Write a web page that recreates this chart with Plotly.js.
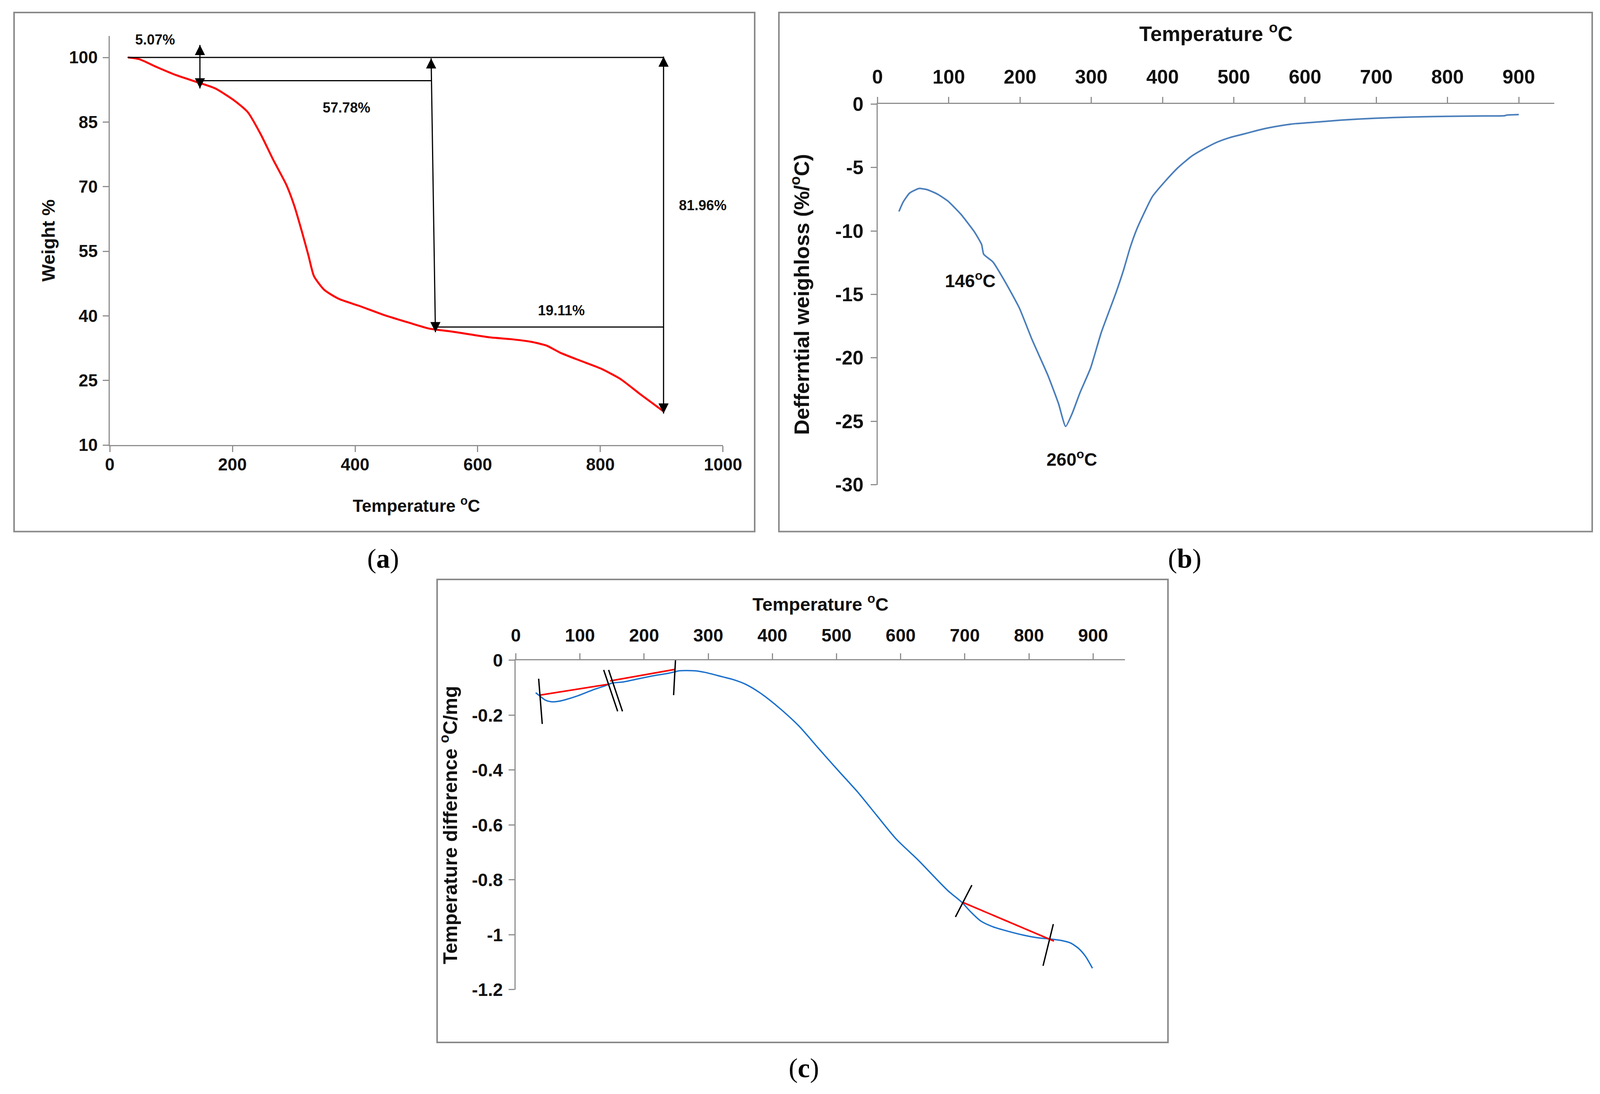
<!DOCTYPE html>
<html>
<head>
<meta charset="utf-8">
<script src="https://cdn.plot.ly/plotly-3.0.1.min.js"></script>
<style>
  html, body { margin: 0; padding: 0; background: #ffffff; }
  #chart { width: 4100px; height: 2800px; }
</style>
</head>
<body>
<div id="chart"></div>
<script>
// ---------- (a) TGA: weight % vs temperature ----------
const tgaTemp   = [30, 48, 76, 108, 146, 172, 203, 225, 246, 267, 288, 301, 313, 324, 333, 350, 374, 407, 447, 488, 522, 555, 587, 620, 653, 686, 712, 735, 767, 800, 832, 865, 886, 903];
const tgaWeight = [100, 99.6, 97.8, 95.9, 94.1, 92.8, 90.0, 87.3, 82.2, 76.1, 70.4, 65.5, 59.7, 54.0, 49.2, 46.0, 43.9, 42.3, 40.2, 38.4, 37.0, 36.4, 35.7, 35.0, 34.6, 34.0, 33.1, 31.4, 29.6, 27.8, 25.4, 21.8, 19.6, 17.8];
const aXTicks = [0, 200, 400, 600, 800, 1000];
const aYTicks = [10, 25, 40, 55, 70, 85, 100];
// guide lines of panel (a)
const aGuideX = [[29, 903], [147, 524], [531, 903]];
const aGuideY = [[100, 100], [94.6, 94.6], [37.4, 37.4]];
// double-headed arrows of panel (a): top tip and bottom tip
const aArrowTopX = [147, 524, 903];
const aArrowTopY = [102.9, 99.8, 100.2];
const aArrowBotX = [147, 531, 903];
const aArrowBotY = [92.8, 36.2, 17.3];
const aLabelText = ['5.07%', '57.78%', '81.96%', '19.11%'];
const aLabelX = [73.8, 386, 967, 736];
const aLabelY = [104.1, 88.3, 65.7, 41.3];

// ---------- (b) DTG: differential weight loss ----------
const dtgTemp = [30, 36, 45, 58, 69, 84, 99, 117, 136, 146, 149, 162, 180, 199, 217, 239, 254, 264, 273, 284, 299, 314, 334.5, 345.5, 354.6, 363.8, 372.9, 385.7, 404, 422, 440.5, 459, 477, 495, 514, 532, 550, 568, 587, 605, 650, 700, 750, 800, 850, 880, 883, 900];
const dtgRate = [-8.47, -7.72, -7.02, -6.66, -6.74, -7.10, -7.66, -8.69, -10.08, -11.06, -11.84, -12.45, -14.1, -16.07, -18.58, -21.36, -23.6, -25.4, -24.4, -22.76, -20.8, -18.0, -14.89, -13.04, -11.30, -9.87, -8.74, -7.30, -6.07, -5.00, -4.13, -3.51, -3.00, -2.64, -2.37, -2.10, -1.87, -1.69, -1.55, -1.48, -1.28, -1.12, -1.03, -0.98, -0.95, -0.93, -0.88, -0.84];
const bXTicks = [0, 100, 200, 300, 400, 500, 600, 700, 800, 900];
const bYTicks = [0, -5, -10, -15, -20, -25, -30];
const bYTickText = ['0', '-5', '-10', '-15', '-20', '-25', '-30'];
const bLabelText = ['146<sup>o</sup>C', '260<sup>o</sup>C'];
const bLabelX = [130, 273];
const bLabelY = [-13.86, -27.9];

// ---------- (c) DTA: temperature difference ----------
const dtaTemp = [31, 38, 46, 55, 67, 78, 97, 120, 139, 150, 167, 190, 213, 236, 248, 255, 278, 295, 322, 340, 358, 381, 411, 442, 472, 502, 533, 563, 593, 627, 650, 674, 696, 709, 725, 744, 767, 791, 814, 832, 851, 865, 877, 888, 899];
const dtaDiff = [-0.118, -0.131, -0.145, -0.151, -0.149, -0.143, -0.129, -0.108, -0.093, -0.083, -0.079, -0.068, -0.057, -0.048, -0.042, -0.038, -0.038, -0.044, -0.060, -0.071, -0.087, -0.119, -0.174, -0.241, -0.321, -0.400, -0.480, -0.566, -0.651, -0.727, -0.783, -0.840, -0.883, -0.916, -0.950, -0.971, -0.987, -1.001, -1.011, -1.015, -1.021, -1.030, -1.049, -1.078, -1.122];
const cXTicks = [0, 100, 200, 300, 400, 500, 600, 700, 800, 900];
const cYTicks = [0, -0.2, -0.4, -0.6, -0.8, -1, -1.2];
const cYTickText = ['0', '-0.2', '-0.4', '-0.6', '-0.8', '-1', '-1.2'];
// red baseline segments
const cBaseX = [[37, 145], [147, 248], [697, 839]];
const cBaseY = [[-0.127, -0.087], [-0.075, -0.033], [-0.882, -1.023]];
// black cross marks
const cMarkX = [[35.6, 41.2], [137, 158.8], [144.7, 166.3], [249.3, 246], [711, 685.4], [838, 822]];
const cMarkY = [[-0.067, -0.232], [-0.035, -0.186], [-0.035, -0.186], [0.017, -0.127], [-0.819, -0.935], [-0.961, -1.113]];

// ---------- styling ----------
const ARIAL = '"Liberation Sans", Arial, sans-serif';
const SERIF = '"Liberation Serif", "DejaVu Serif", serif';
const AXIS_GRAY = '#8f8f8f';
const BORDER_GRAY = '#8a8a8a';
const INK = '#111111';

function axisBase() {
  return {
    showline: true, linecolor: AXIS_GRAY, linewidth: 3,
    ticks: 'outside', ticklen: 15, tickwidth: 3, tickcolor: AXIS_GRAY,
    showgrid: false, zeroline: false, fixedrange: true
  };
}

const traces = [];
traces.push({ x: tgaTemp, y: tgaWeight, xaxis: 'x', yaxis: 'y', mode: 'lines',
  line: { color: '#ff0000', width: 5, shape: 'spline', smoothing: 0.6 }, hoverinfo: 'skip' });
for (let i = 0; i < aGuideX.length; i++) {
  traces.push({ x: aGuideX[i], y: aGuideY[i], xaxis: 'x', yaxis: 'y', mode: 'lines',
    line: { color: '#000000', width: 3 }, hoverinfo: 'skip' });
}
for (let i = 0; i < aArrowTopX.length; i++) {
  traces.push({ x: [aArrowTopX[i], aArrowBotX[i]], y: [aArrowTopY[i], aArrowBotY[i]],
    xaxis: 'x', yaxis: 'y', mode: 'lines+markers', cliponaxis: false,
    line: { color: '#000000', width: 3 },
    marker: { symbol: ['arrow-up', 'arrow-down'], size: 26, color: '#000000', line: { width: 0 } },
    hoverinfo: 'skip' });
}
traces.push({ x: dtgTemp, y: dtgRate, xaxis: 'x2', yaxis: 'y2', mode: 'lines',
  line: { color: '#4a7ebb', width: 4, shape: 'spline', smoothing: 0.5 }, hoverinfo: 'skip' });
traces.push({ x: dtaTemp, y: dtaDiff, xaxis: 'x3', yaxis: 'y3', mode: 'lines',
  line: { color: '#1a70cc', width: 3.5, shape: 'spline', smoothing: 0.7 }, hoverinfo: 'skip' });
for (let i = 0; i < cBaseX.length; i++) {
  traces.push({ x: cBaseX[i], y: cBaseY[i], xaxis: 'x3', yaxis: 'y3', mode: 'lines',
    line: { color: '#ff0000', width: 4 }, hoverinfo: 'skip' });
}
for (let i = 0; i < cMarkX.length; i++) {
  traces.push({ x: cMarkX[i], y: cMarkY[i], xaxis: 'x3', yaxis: 'y3', mode: 'lines',
    line: { color: '#000000', width: 3.5 }, hoverinfo: 'skip' });
}

const annotations = [];
for (let i = 0; i < aLabelText.length; i++) {
  annotations.push({ xref: 'x', yref: 'y', x: aLabelX[i], y: aLabelY[i], text: aLabelText[i],
    showarrow: false, xanchor: 'center', yanchor: 'middle',
    font: { family: ARIAL, size: 36, color: INK, weight: 'bold' } });
}
for (let i = 0; i < bLabelText.length; i++) {
  annotations.push({ xref: 'x2', yref: 'y2', x: bLabelX[i], y: bLabelY[i], text: bLabelText[i],
    showarrow: false, xanchor: 'center', yanchor: 'middle',
    font: { family: ARIAL, size: 46, color: INK, weight: 'bold' } });
}
const captionText = ['(<b>a</b>)', '(<b>b</b>)', '(<b>c</b>)'];
const captionX = [0.2393, 0.7398, 0.5020];
const captionY = [0.4893, 0.4893, 0.0239];
for (let i = 0; i < captionText.length; i++) {
  annotations.push({ xref: 'paper', yref: 'paper', x: captionX[i], y: captionY[i], text: captionText[i],
    showarrow: false, xanchor: 'center', yanchor: 'middle',
    font: { family: SERIF, size: 70, color: '#000000' } });
}

const shapes = [
  [0.00878, 0.51411, 0.47122, 0.98857],
  [0.48634, 0.51411, 0.99415, 0.98857],
  [0.27293, 0.04714, 0.72927, 0.47036]
].map(b => ({ type: 'rect', xref: 'paper', yref: 'paper', x0: b[0], y0: b[1], x1: b[2], y1: b[3],
  line: { color: BORDER_GRAY, width: 4 }, fillcolor: 'rgba(0,0,0,0)', layer: 'below' }));

const layout = {
  width: 4100, height: 2800,
  margin: { l: 0, r: 0, t: 0, b: 0, pad: 0 },
  paper_bgcolor: '#ffffff', plot_bgcolor: 'rgba(0,0,0,0)',
  showlegend: false, hovermode: false,
  xaxis: Object.assign(axisBase(), {
    domain: [0.06854, 0.45146], range: [0, 1000], anchor: 'y',
    tickvals: aXTicks, ticktext: aXTicks.map(String),
    tickfont: { family: ARIAL, size: 44, color: INK, weight: 'bold' },
    ticklabelstandoff: -6,
    title: { text: 'Temperature <sup>o</sup>C', standoff: 68,
      font: { family: ARIAL, size: 44, color: INK, weight: 'bold' } }
  }),
  yaxis: Object.assign(axisBase(), {
    domain: [0.59321, 0.96718], range: [10, 105], anchor: 'x',
    tickvals: aYTicks, ticktext: aYTicks.map(String),
    tickfont: { family: ARIAL, size: 44, color: INK, weight: 'bold' },
    ticklabelstandoff: 4,
    title: { text: 'Weight %', standoff: 22,
      font: { family: ARIAL, size: 47, color: INK, weight: 'bold' } }
  }),
  xaxis2: Object.assign(axisBase(), {
    domain: [0.54793, 0.97056], range: [0, 950], anchor: 'y2', side: 'top',
    tickvals: bXTicks, ticktext: bXTicks.map(String),
    tickfont: { family: ARIAL, size: 50, color: INK, weight: 'bold' },
    ticklabelstandoff: 14,
    title: { text: 'Temperature <sup>o</sup>C', standoff: 47,
      font: { family: ARIAL, size: 53, color: INK, weight: 'bold' } }
  }),
  yaxis2: Object.assign(axisBase(), {
    domain: [0.55679, 0.905], range: [-30, 0], anchor: 'x2',
    tickvals: bYTicks, ticktext: bYTickText,
    tickfont: { family: ARIAL, size: 50, color: INK, weight: 'bold' },
    ticklabelstandoff: 8,
    title: { text: 'Defferntial weighloss (%/<sup>o</sup>C)', standoff: 50,
      font: { family: ARIAL, size: 54, color: INK, weight: 'bold' } }
  }),
  xaxis3: Object.assign(axisBase(), {
    domain: [0.32207, 0.70254], range: [0, 950], anchor: 'y3', side: 'top',
    tickvals: cXTicks, ticktext: cXTicks.map(String),
    tickfont: { family: ARIAL, size: 46, color: INK, weight: 'bold' },
    ticklabelstandoff: 12,
    title: { text: 'Temperature <sup>o</sup>C', standoff: 22,
      font: { family: ARIAL, size: 47, color: INK, weight: 'bold' } }
  }),
  yaxis3: Object.assign(axisBase(), {
    domain: [0.09536, 0.39643], range: [-1.2, 0], anchor: 'x3',
    tickvals: cYTicks, ticktext: cYTickText,
    tickfont: { family: ARIAL, size: 46, color: INK, weight: 'bold' },
    ticklabelstandoff: 6,
    title: { text: 'Temperature difference <sup>o</sup>C/mg', standoff: 22,
      font: { family: ARIAL, size: 50, color: INK, weight: 'bold' } }
  }),
  annotations: annotations,
  shapes: shapes
};

Plotly.newPlot('chart', traces, layout, { displayModeBar: false, staticPlot: true, responsive: false });
</script>
</body>
</html>
